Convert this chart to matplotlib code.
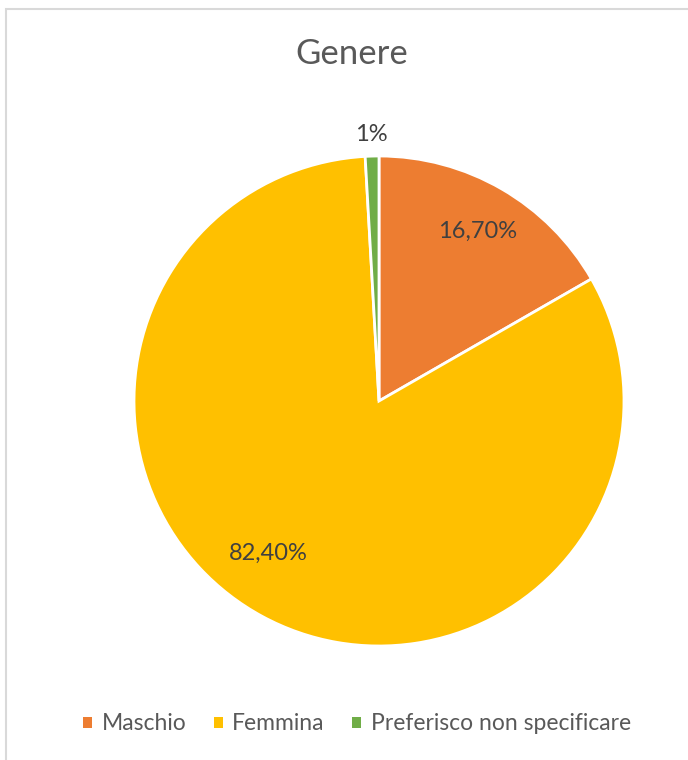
import numpy as np
import matplotlib
matplotlib.use('Agg')
import matplotlib.pyplot as plt
from matplotlib.patches import Patch, Rectangle

plt.rcParams['font.family'] = ['Lato', 'DejaVu Sans']

categorie = ['Maschio', 'Femmina', 'Preferisco non specificare']
valori = [16.7, 82.4, 0.9]
etichette = ['16,70%', '82,40%', '1%']
colori = ['#ED7D31', '#FFC000', '#70AD47']

fig = plt.figure(figsize=(6.88, 7.6), dpi=100)

# bordo grigio chiaro del grafico
fig.patches.append(Rectangle((6/688, -0.1), 1.2, 1 - 9/760 + 0.1, transform=fig.transFigure,
                             fill=False, edgecolor='#D9D9D9', linewidth=1.5))

cx, cy, r = 379, 401, 245
ax = fig.add_axes([(cx - r)/688, (760 - cy - r)/760, 2*r/688, 2*r/760])
wedges, _ = ax.pie(valori, colors=colori, startangle=90, counterclock=False,
                   wedgeprops=dict(edgecolor='white', linewidth=2))
ax.set_xlim(-1, 1)
ax.set_ylim(-1, 1)
ax.set_aspect('equal')

dist = [0.80, 0.77, 1.09]
shift = [0, -7.5, 0]
for w, lab, d, s in zip(wedges, etichette, dist, shift):
    ang = np.deg2rad((w.theta1 + w.theta2) / 2 + s)
    ax.text(d*np.cos(ang), d*np.sin(ang), lab, ha='center', va='center',
            fontsize=17, color='#404040')

fig.text(352/688, 1 - 54/760, 'Genere', ha='center', va='center',
         fontsize=25, color='#595959')

handles = [Patch(facecolor=c, edgecolor='none') for c in colori]
fig.legend(handles, categorie, loc='center', bbox_to_anchor=(357/688, 1 - 724/760),
           ncol=3, frameon=False, fontsize=16.5, labelcolor='#595959',
           handlelength=0.4, handleheight=0.4, handletextpad=0.4, columnspacing=1.2)

fig.savefig('out.png', dpi=100)
